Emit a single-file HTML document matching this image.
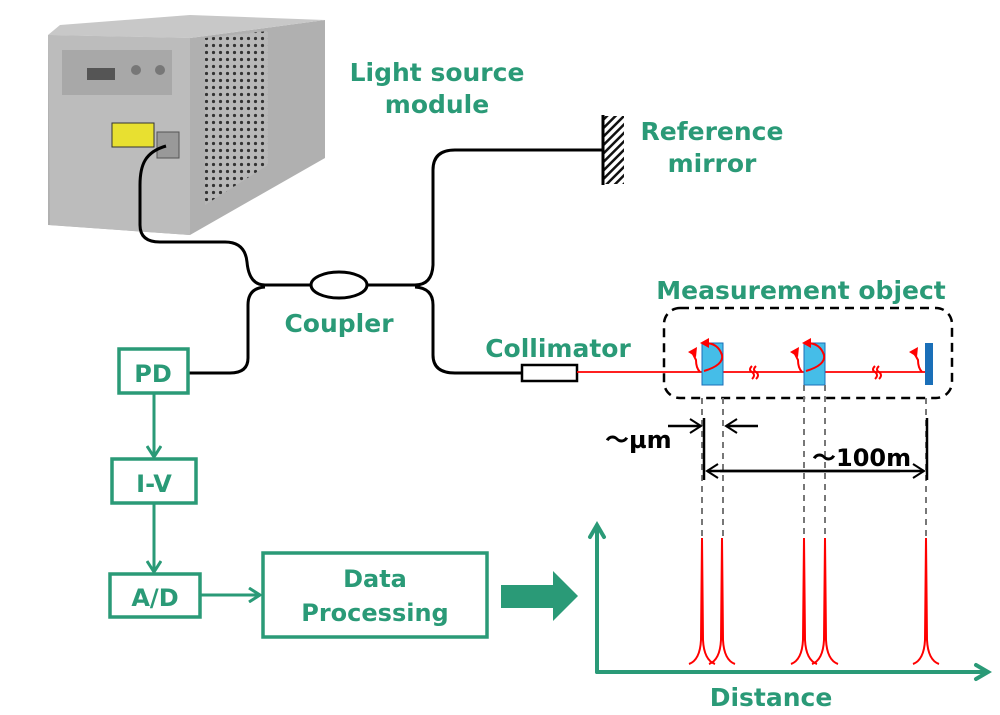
<!DOCTYPE html>
<html><head><meta charset="utf-8"><style>
html,body{margin:0;padding:0;background:#fff;width:1000px;height:715px;overflow:hidden}
svg{display:block}
text{font-family:"DejaVu Sans","Liberation Sans","Noto Sans CJK JP",sans-serif;font-weight:bold}
.g{fill:#2a9a77}
</style></head><body>
<svg width="1000" height="715" viewBox="0 0 1000 715" xmlns="http://www.w3.org/2000/svg">
<defs>
<pattern id="hatch" width="6" height="6" patternUnits="userSpaceOnUse" patternTransform="rotate(45)">
<rect width="6" height="6" fill="#fff"/><rect width="2.5" height="6" fill="#111"/></pattern>
<pattern id="holes" width="7" height="7" patternUnits="userSpaceOnUse">
<rect width="7" height="7" fill="#b8b8b8"/><circle cx="3.5" cy="3.5" r="1.6" fill="#333"/></pattern>
<marker id="ga" markerWidth="16" markerHeight="16" refX="13" refY="8" orient="auto" markerUnits="userSpaceOnUse"><path d="M2,1 L13,8 L2,15" fill="none" stroke="#2a9a77" stroke-width="3"/></marker>
<marker id="ka" markerWidth="16" markerHeight="16" refX="13" refY="8" orient="auto" markerUnits="userSpaceOnUse"><path d="M2,1 L13,8 L2,15" fill="none" stroke="#000" stroke-width="2"/></marker>
</defs>
<polygon points="48,35 190,38 325,20 325,158 190,235 48,225" fill="#b0b0b0"/>
<polygon points="48,35 190,38 190,235 50,225" fill="#bcbcbc"/>
<polygon points="48,35 190,38 325,20 190,15 60,25" fill="#c8c8c8"/>
<polygon points="205,38 268,31 268,165 205,205" fill="url(#holes)"/>
<rect x="62" y="50" width="110" height="45" fill="#a8a8a8"/>
<rect x="87" y="68" width="28" height="12" fill="#555"/>
<circle cx="136" cy="70" r="5" fill="#777"/><circle cx="160" cy="70" r="5" fill="#777"/>
<rect x="112" y="123" width="42" height="24" fill="#e8e030" stroke="#333" stroke-width="1"/>
<rect x="157" y="132" width="22" height="26" fill="#999" stroke="#555"/>
<g fill="none" stroke="#000" stroke-width="3">
<path d="M166,146 C145,152 140,165 140,185 L140,225 Q140,242 160,242 L225,242 Q245,242 247,262 Q249,285 265,285 L311,285"/>
<path d="M367,285 L415,285 Q432,285 433,265 L433,170 Q433,150 455,150 L603,150"/>
<path d="M265,287 Q248,288 248,305 L248,358 Q248,373 230,373 L188,373"/>
<path d="M415,287 Q433,288 433,305 L433,355 Q433,373 455,373 L522,373"/>
<ellipse cx="339" cy="285" rx="28" ry="13"/>
<rect x="522" y="365" width="55" height="16" stroke-width="2.5" fill="#fff"/>
</g>
<rect x="604" y="116" width="20" height="68" fill="url(#hatch)"/>
<line x1="603" y1="115" x2="603" y2="185" stroke="#000" stroke-width="3"/>
<text class="g" x="437" y="81" font-size="25" text-anchor="middle">Light source</text>
<text class="g" x="437" y="113" font-size="25" text-anchor="middle">module</text>
<text class="g" x="712" y="140" font-size="25" text-anchor="middle">Reference</text>
<text class="g" x="712" y="172" font-size="25" text-anchor="middle">mirror</text>
<text class="g" x="339" y="332" font-size="25" text-anchor="middle">Coupler</text>
<text class="g" x="558" y="357" font-size="25" text-anchor="middle">Collimator</text>
<text class="g" x="801" y="299" font-size="25" text-anchor="middle">Measurement object</text>
<g fill="none" stroke="#2a9a77" stroke-width="3.5">
<rect x="119" y="349" width="69" height="44"/>
<rect x="112" y="459" width="84" height="44"/>
<rect x="110" y="574" width="90" height="43"/>
<rect x="263" y="553" width="224" height="84"/>
</g>
<g stroke="#2a9a77" stroke-width="3" fill="none">
<line x1="154" y1="393" x2="154" y2="457" marker-end="url(#ga)"/>
<line x1="154" y1="503" x2="154" y2="572" marker-end="url(#ga)"/>
<line x1="200" y1="595" x2="260" y2="595" marker-end="url(#ga)"/>
</g>
<text class="g" x="153" y="382" font-size="24" text-anchor="middle">PD</text>
<text class="g" x="154" y="492" font-size="24" text-anchor="middle">I-V</text>
<text class="g" x="155" y="606" font-size="24" text-anchor="middle">A/D</text>
<text class="g" x="375" y="587" font-size="24" text-anchor="middle">Data</text>
<text class="g" x="375" y="621" font-size="24" text-anchor="middle">Processing</text>
<polygon points="501,585 553,585 553,571 578,596 553,621 553,608 501,608" fill="#2a9a77"/>
<g stroke="#2a9a77" stroke-width="4" fill="none" stroke-linecap="round">
<path d="M597,672 L597,525 M590,537 L597,525 L604,537"/>
<path d="M597,672 L988,672 M976,665 L988,672 L976,679"/>
</g>
<text class="g" x="771" y="706" font-size="25" text-anchor="middle">Distance</text>
<rect x="664" y="308" width="288" height="90" rx="16" fill="none" stroke="#000" stroke-width="2.5" stroke-dasharray="9,6"/>
<line x1="577" y1="372" x2="925" y2="372" stroke="#f00" stroke-width="1.8"/>
<rect x="702" y="343" width="21" height="42" fill="#45bde8" stroke="#1a6fb8" stroke-width="1"/>
<rect x="804" y="343" width="21" height="42" fill="#45bde8" stroke="#1a6fb8" stroke-width="1"/>
<rect x="925" y="343" width="8" height="42" fill="#1a6fb8"/>
<g fill="none" stroke="#f00" stroke-width="2">
<path d="M700,372 Q696,368 696,360 Q694,356 692,352"/><path d="M704,371 Q724,365 722,355 Q718,343 705,343"/>
<path d="M802,372 Q798,368 798,360 Q796,356 794,352"/><path d="M806,371 Q826,365 824,355 Q820,343 807,343"/>
<path d="M922,372 Q918,368 918,360 Q916,356 913,352"/>
<path d="M752,366 q-4,4 0,6 q4,3 0,7 M756,366 q-4,4 0,6 q4,3 0,7"/>
<path d="M875,366 q-4,4 0,6 q4,3 0,7 M879,366 q-4,4 0,6 q4,3 0,7"/>
</g>
<g fill="#f00"><polygon points="688,352 697,347 696,357"/><polygon points="700,343 709,338 709,348"/>
<polygon points="790,352 799,347 798,357"/><polygon points="802,343 811,338 811,348"/><polygon points="909,352 918,347 917,357"/></g>
<g stroke="#777" stroke-width="2" stroke-dasharray="6,5">
<line x1="702" y1="398" x2="702" y2="538"/><line x1="723" y1="398" x2="723" y2="538"/>
<line x1="804" y1="385" x2="804" y2="538"/><line x1="825" y1="385" x2="825" y2="538"/>
<line x1="926" y1="398" x2="926" y2="538"/>
</g>
<g stroke="#000" stroke-width="2.5" fill="none">
<line x1="704" y1="418" x2="704" y2="480"/><line x1="927" y1="418" x2="927" y2="480"/>
<line x1="668" y1="426" x2="701" y2="426" marker-end="url(#ka)"/>
<line x1="758" y1="426" x2="726" y2="426" marker-end="url(#ka)"/>
<line x1="720" y1="471" x2="924" y2="471" marker-end="url(#ka)"/>
<line x1="900" y1="471" x2="707" y2="471" marker-end="url(#ka)"/>
</g>
<text x="605" y="448" font-size="24" font-family="'Noto Sans CJK JP',sans-serif">～µm</text>
<text x="812" y="466" font-size="24" font-family="'Noto Sans CJK JP',sans-serif">～100m</text>
<g fill="none" stroke="#f00" stroke-width="2">
<path d="M689,664 Q700,660 701,640 L702,538 L703,640 Q704,660 715,664"/>
<path d="M709,664 Q720,660 721,640 L722,538 L723,640 Q724,660 735,664"/>
<path d="M791,664 Q802,660 803,640 L804,538 L805,640 Q806,660 817,664"/>
<path d="M812,664 Q823,660 824,640 L825,538 L826,640 Q827,660 838,664"/>
<path d="M913,664 Q924,660 925,640 L926,538 L927,640 Q928,660 939,664"/>
</g>
</svg>
</body></html>
